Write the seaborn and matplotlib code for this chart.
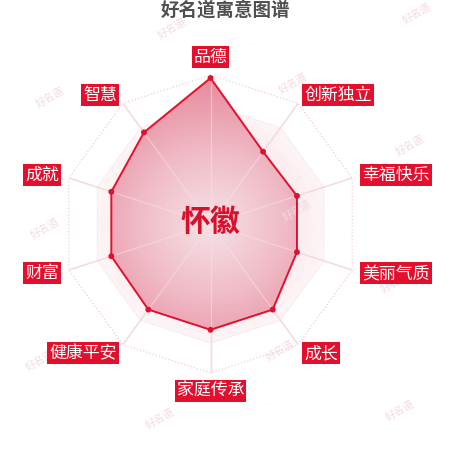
import numpy as np
import pandas as pd
import matplotlib
matplotlib.use("Agg")
import matplotlib.pyplot as plt
import seaborn as sns

# ---------------- data ----------------
categories = ["品德", "创新独立", "幸福快乐", "美丽气质", "成长",
              "家庭传承", "健康平安", "财富", "成就", "智慧"]
values = [98, 60, 61, 61, 71, 71, 71, 70, 70, 76]
max_value = 100
title = "好名道寓意图谱"
name = "怀徽"
watermark = "好名道"

# ---------------- style ----------------
sns.set_theme(style="white")
plt.rcParams["font.family"] = ["Noto Sans CJK SC", "DejaVu Sans"]

RED = "#e3102d"
GRID = "#f1cdd4"

fig = plt.figure(figsize=(4.5, 4.5), dpi=100)
fig.patch.set_facecolor("white")
ax = fig.add_axes([0.1367, 0.1711, 0.6622, 0.6622], projection="polar")
ax.set_theta_zero_location("N")
ax.set_theta_direction(-1)
ax.set_facecolor("none")
ax.grid(False)
ax.spines["polar"].set_visible(False)

n = len(categories)
theta = np.arange(n) * 2 * np.pi / n
theta_closed = np.append(theta, 2 * np.pi)

# ---------------- grid ----------------
for t in theta:
    ax.plot([t, t], [0, max_value], color="#f3d3d9", lw=1.0, zorder=2)
    ax.plot([t, t], [0, max_value], color="#f7e2e6", lw=0.9, alpha=0.55, zorder=4)
ax.plot(theta_closed, [max_value] * (n + 1), color=GRID, lw=0.9, ls=":", zorder=2)
ax.plot(theta_closed, [0.8 * max_value] * (n + 1), color=GRID, lw=0.6, ls=":", zorder=2)

# radial grid for gradient images
N = 500
xx, yy = np.meshgrid(np.linspace(-1, 1, N), np.linspace(1, -1, N))
rr = np.sqrt(xx ** 2 + yy ** 2)

# background split-area ring (clipped to 80% polygon)
ring_patch = ax.fill(theta, [0.8 * max_value] * n, facecolor="none", edgecolor="none")[0]
ring = np.zeros((N, N, 4))
ring[..., 0] = 242 / 255
ring[..., 1] = 190 / 255
ring[..., 2] = 201 / 255
ring[..., 3] = np.clip(0.32 - 0.22 * (rr - 0.55) / 0.3, 0.08, 0.32)
im_bg = ax.imshow(ring, extent=(0, 1, 0, 1), transform=ax.transAxes,
                  zorder=1, aspect="auto", interpolation="bilinear")
im_bg.set_clip_path(ring_patch)

# data fill with radial gradient
fill_patch = ax.fill(theta, values, facecolor="#eeb0bc", edgecolor="none", zorder=3)[0]
c0 = np.array([246, 226, 230]) / 255
c1 = np.array([240, 186, 198]) / 255
c2 = np.array([231, 136, 153]) / 255
t = np.clip(rr, 0, 1)[..., None]
col = np.where(t < 0.5, c0 + (c1 - c0) * (t / 0.5), c1 + (c2 - c1) * ((t - 0.5) / 0.5))
grad = np.concatenate([col, np.ones((N, N, 1))], axis=2)
im_fg = ax.imshow(grad, extent=(0, 1, 0, 1), transform=ax.transAxes,
                  zorder=3.5, aspect="auto", interpolation="bilinear")
im_fg.set_clip_path(fill_patch)

# data line + markers
df = pd.DataFrame({"theta": theta_closed, "value": values + [values[0]]})
sns.lineplot(data=df, x="theta", y="value", sort=False, estimator=None, ax=ax,
             color=RED, lw=1.4, zorder=5)
sns.scatterplot(data=df.iloc[:-1], x="theta", y="value", ax=ax, color=RED,
                s=18, edgecolor="none", zorder=6)

ax.set_xlabel("")
ax.set_ylabel("")
ax.set_xticks([])
ax.set_yticks([])
ax.set_xlim(0, 2 * np.pi)
ax.set_ylim(0, max_value)

# ---------------- category labels ----------------
for t_, lab in zip(theta, categories):
    s, c = np.sin(t_), np.cos(t_)
    if abs(s) < 1e-6:
        ha = "center"
        va = "bottom" if c > 0 else "top"
        r_lab = 106
    else:
        ha = "left" if s > 0 else "right"
        va = "center"
        r_lab = 107
    ax.text(t_, r_lab, lab, ha=ha, va=va, color="white", fontsize=12.2,
            zorder=10, clip_on=False,
            bbox=dict(boxstyle="square,pad=0.12", facecolor=RED, edgecolor="none"))

# center name
ax.text(0, 1.5, name, ha="center", va="center", color="#d8102b",
        fontsize=21.5, fontweight="bold", zorder=9)

# title
fig.text(0.5, 1 - 10 / 450, title, ha="center", va="center", color="#505050",
         fontsize=13.3, fontweight="bold")

# watermarks
wm_pos = [(172, 28), (417, 13), (50, 97), (293, 83), (410, 145), (45, 228),
          (297, 210), (395, 282), (280, 350), (40, 360), (160, 418), (400, 410)]
for (px, py) in wm_pos:
    ax.text(px / 450, 1 - py / 450, watermark, transform=fig.transFigure,
            ha="center", va="center", rotation=30, color="#f4dade",
            fontsize=7.5, zorder=4, clip_on=False)

fig.savefig("out.png", dpi=100)
